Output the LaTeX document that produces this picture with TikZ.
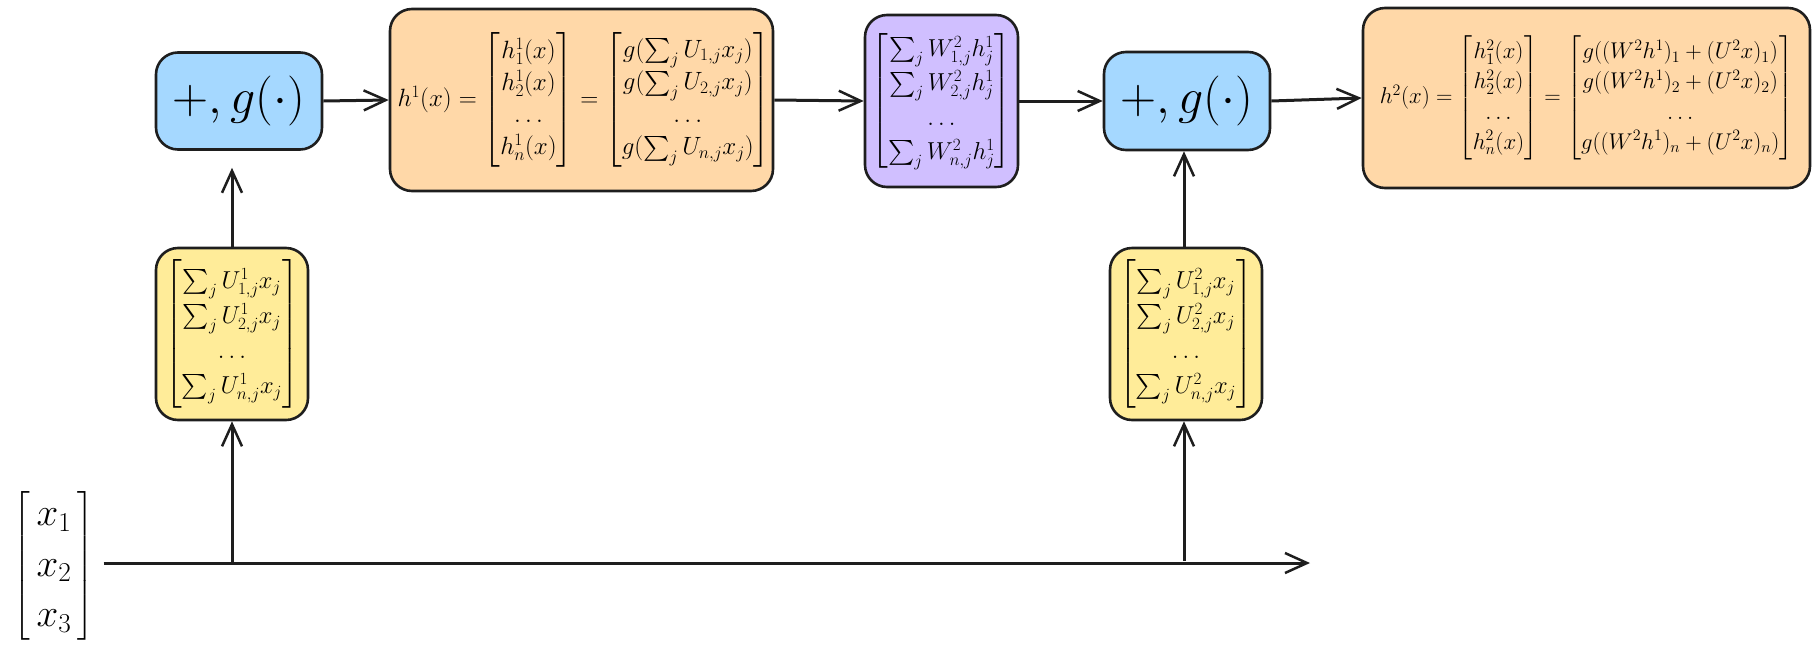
\RequirePackage{fix-cm}
\documentclass[tikz,border=0pt]{standalone}
\usepackage{amsmath}
\usetikzlibrary{arrows.meta}
\definecolor{cblue}{HTML}{A5D8FF}
\definecolor{corange}{HTML}{FFD8A8}
\definecolor{cpurple}{HTML}{D0BFFF}
\definecolor{cyellow}{HTML}{FFEC99}
\definecolor{stroke}{HTML}{1E1E1E}
\begin{document}
\begin{tikzpicture}[x=1pt,y=-1pt,
  box/.style={draw=stroke, line width=2.6pt, rounded corners=22pt, inner sep=0pt, align=center},
  arr/.style={draw=stroke, line width=3pt, -{Straight Barb[length=22pt,width=20pt,line width=2.5pt]}}]
\useasboundingbox (0,0) rectangle (1819,651);

\node[box, fill=cblue, minimum width=166pt, minimum height=97pt,
  font=\fontsize{50}{60}\selectfont] (blue1) at (239,101) {$+,g(\cdot)$};

\node[box, fill=corange, minimum width=383pt, minimum height=182pt,
  font=\fontsize{25}{30}\selectfont] (orange1) at (581.5,100)
  {\hspace*{5pt}\renewcommand{\arraystretch}{1.07}$h^1(x)=\begin{bmatrix}h^1_1(x)\\h^1_2(x)\\\dots\\h^1_n(x)\end{bmatrix}=\begin{bmatrix}g(\sum_j U_{1,j}x_j)\\g(\sum_j U_{2,j}x_j)\\\dots\\g(\sum_j U_{n,j}x_j)\end{bmatrix}$};

\node[box, fill=cpurple, minimum width=153pt, minimum height=172pt,
  font=\fontsize{24.5}{29.4}\selectfont] (purple) at (941.5,101)
  {\renewcommand{\arraystretch}{1.16}$\begin{bmatrix}\sum_j W^2_{1,j}h^1_j\\\sum_j W^2_{2,j}h^1_j\\\dots\\\sum_j W^2_{n,j}h^1_j\end{bmatrix}$};

\node[box, fill=cblue, minimum width=166pt, minimum height=98pt,
  font=\fontsize{50}{60}\selectfont] (blue2) at (1187,101) {$+,g(\cdot)$};

\node[box, fill=corange, minimum width=447pt, minimum height=180pt,
  font=\fontsize{22.8}{27.4}\selectfont] (orange2) at (1586.5,98)
  {\renewcommand{\arraystretch}{1.1}$h^2(x)=\begin{bmatrix}h^2_1(x)\\h^2_2(x)\\\dots\\h^2_n(x)\end{bmatrix}=\begin{bmatrix}g((W^2h^1)_1+(U^2x)_1)\\g((W^2h^1)_2+(U^2x)_2)\\\dots\\g((W^2h^1)_n+(U^2x)_n)\end{bmatrix}$};

\node[box, fill=cyellow, minimum width=152pt, minimum height=172pt,
  font=\fontsize{24.5}{29.4}\selectfont] (yellow1) at (232,334)
  {\renewcommand{\arraystretch}{1.19}$\begin{bmatrix}\sum_j U^1_{1,j}x_j\\\sum_j U^1_{2,j}x_j\\\dots\\\sum_j U^1_{n,j}x_j\end{bmatrix}$};

\node[box, fill=cyellow, minimum width=152pt, minimum height=172pt,
  font=\fontsize{24.5}{29.4}\selectfont] (yellow2) at (1186,334)
  {\renewcommand{\arraystretch}{1.19}$\begin{bmatrix}\sum_j U^2_{1,j}x_j\\\sum_j U^2_{2,j}x_j\\\dots\\\sum_j U^2_{n,j}x_j\end{bmatrix}$};

\node[inner sep=0pt, font=\fontsize{39}{46.8}\selectfont] (xvec) at (54,566)
  {\renewcommand{\arraystretch}{1.08}$\begin{bmatrix}\,x_1\,\\\,x_2\,\\\,x_3\,\end{bmatrix}$};

\coordinate (lineend) at (1310,563);
\coordinate (tap1) at (232,563);
\coordinate (tap2) at (1184,561);

% horizontal input line
\draw[arr] ([xshift=9pt]xvec.east |- lineend) -- (lineend);
% taps up to yellow boxes
\draw[arr] (tap1) -- (tap1 |- yellow1.south);
\draw[arr] (tap2) -- (tap2 |- yellow2.south);
% yellow to blue
\draw[arr, shorten >=17pt] (tap1 |- yellow1.north) -- (tap1 |- blue1.south);
\draw[arr] (tap2 |- yellow2.north) -- (tap2 |- blue2.south);
% top chain
\draw[arr] (blue1.east) -- (orange1.west);
\draw[arr] (orange1.east) -- (purple.west);
\draw[arr] (purple.east) -- (blue2.west);
\draw[arr] (blue2.east) -- (orange2.west);
\end{tikzpicture}
\end{document}
